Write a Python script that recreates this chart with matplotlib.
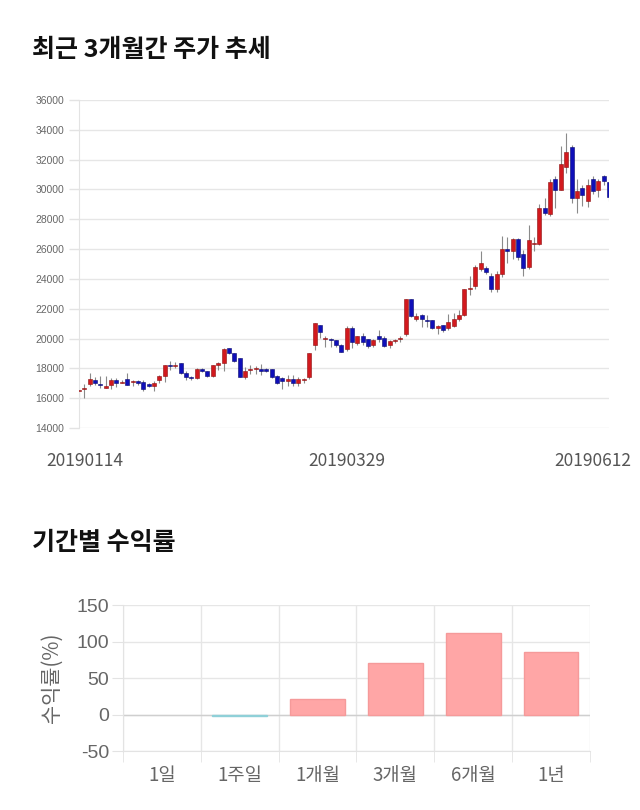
import numpy as np
import matplotlib
matplotlib.use("Agg")
import matplotlib.pyplot as plt
import matplotlib.transforms as mtransforms

plt.rcParams['font.family'] = ['Noto Sans CJK KR', 'DejaVu Sans']
plt.rcParams['axes.unicode_minus'] = False

# 일봉 데이터 (시가, 고가, 저가, 종가) - 그림에서 읽은 값
opens = [16450, 16600, 16950, 17250, 16950, 16700, 16900, 17200, 17050, 17300,
         17100, 17150, 17100, 16950, 16850, 17200, 17500, 18250, 18150, 18350,
         17700, 17450, 17350, 17950, 17800, 17500, 18250, 18350, 19350, 19000,
         18700, 17400, 17900, 17950, 17950, 17950, 17950, 17500, 17350, 17150,
         17300, 17000, 17200, 17400, 19550, 20900, 20000, 19950, 19900, 19600,
         19300, 20700, 19700, 20200, 19950, 19550, 20150, 20050, 19550, 19850,
         20000, 20300, 22650, 21300, 21550, 21250, 21250, 20700, 20900, 20700,
         20850, 21300, 21550, 23350, 23500, 24650, 24700, 24200, 23300, 24350,
         26000, 25850, 26700, 25650, 24800, 26350, 26350, 28750, 28350, 30700,
         29950, 31500, 32850, 29400, 30100, 29250, 30700, 29950, 30900, 30500]
highs = [16650, 16950, 17700, 17400, 17500, 17500, 17350, 17350, 17200, 17700,
         17250, 17200, 17250, 17000, 17150, 17550, 18250, 18500, 18450, 18350,
         17850, 17500, 18000, 18000, 17850, 18250, 18450, 19350, 19400, 19050,
         18700, 18100, 18200, 18150, 18300, 18000, 17950, 17550, 17400, 17550,
         17550, 17400, 17350, 19000, 21050, 20900, 20200, 20050, 19900, 19650,
         20850, 20850, 20200, 20400, 20000, 19950, 20600, 20150, 19900, 20000,
         20200, 22650, 22650, 21700, 21650, 21550, 21250, 20900, 20900, 21650,
         21700, 21900, 23300, 24200, 24950, 25900, 24900, 24400, 24500, 26900,
         26800, 26750, 26750, 25950, 27600, 26800, 29000, 29400, 30700, 30900,
         32950, 33800, 33000, 30700, 30300, 30700, 30900, 30700, 30950, 30700]
lows = [15950, 16000, 16850, 16900, 16700, 16650, 16600, 16750, 17000, 16900,
        16800, 16900, 16450, 16750, 16500, 17050, 17100, 17900, 18050, 17600,
        17250, 17200, 17300, 17750, 17450, 17400, 17900, 17850, 18950, 18400,
        17400, 17300, 17600, 17650, 17550, 17750, 17350, 16950, 16600, 16800,
        16800, 16850, 17050, 17300, 19200, 20050, 19450, 19450, 19450, 19100,
        19150, 19400, 19550, 19600, 19400, 19450, 19750, 19450, 19400, 19700,
        19800, 20200, 21450, 21200, 20800, 20800, 20650, 20300, 20450, 20550,
        20750, 21200, 21500, 22900, 23300, 24500, 24300, 23100, 23100, 24150,
        25100, 25350, 25300, 24200, 24650, 25900, 26300, 28300, 28200, 28750,
        29950, 31100, 29100, 28400, 28900, 28800, 29700, 29500, 30300, 29200]
closes = [16550, 16650, 17300, 17000, 16900, 16850, 17250, 17050, 17100, 16900,
          17150, 17000, 16600, 16800, 17050, 17500, 18250, 18150, 18250, 17700,
          17400, 17350, 17950, 17800, 17500, 18200, 18350, 19300, 19000, 18500,
          17400, 17850, 17950, 18000, 17850, 17850, 17450, 17050, 17150, 17300,
          17000, 17300, 17250, 19000, 21050, 20450, 20050, 19900, 19550, 19100,
          20700, 19750, 20200, 19750, 19500, 19900, 20000, 19500, 19850, 19900,
          20050, 22650, 21500, 21500, 21300, 21200, 20700, 20850, 20550, 21100,
          21300, 21550, 23300, 23400, 24800, 25100, 24450, 23300, 24350, 26000,
          25850, 26700, 25450, 24700, 26600, 26400, 28750, 28400, 30500, 29950,
          31700, 32500, 29400, 29900, 29600, 30300, 29900, 30600, 30550, 29500]
date_labels = ['20190114', '20190329', '20190612']

periods = ['1일', '1주일', '1개월', '3개월', '6개월', '1년']
returns = [0.0, -2.3, 20.7, 70.5, 111.6, 85.5]

fig = plt.figure(figsize=(6.4, 8.1), dpi=100)

# ---- 최근 3개월간 주가 추세 ----
fig.text(0.05, 0.938, '최근 3개월간 주가 추세', fontsize=18, fontweight='bold',
         va='center', ha='left', color='#111111')

ax = fig.add_axes([0.1234, 0.4716, 0.8282, 0.4049])
o = np.array(opens)
c = np.array(closes)
h = np.array(highs)
l = np.array(lows)
x = np.arange(len(o))
up = c >= o
col = np.where(up, '#d2191e', '#0f0fb9')
ax.vlines(x, l, h, color='#8a8a8a', linewidth=0.8, zorder=2)
body_lo = np.minimum(o, c)
body_h = np.maximum(np.abs(c - o), 60)
ax.bar(x, body_h, bottom=body_lo, width=0.75, color=col,
       edgecolor=np.where(up, '#8c1010', '#08086e'), linewidth=0.4, zorder=3)

ax.set_xlim(0, len(o) - 1)
ax.set_ylim(14000, 36000)
ax.set_yticks(np.arange(14000, 36001, 2000))
ax.tick_params(axis='y', labelsize=7.5, labelcolor='#666666', color='#e3e3e3',
               length=7, width=1)
for lab in ax.get_yticklabels():
    lab.set_family(['Liberation Sans', 'DejaVu Sans'])
ax.grid(axis='y', color='#e6e6e6', linewidth=1)
ax.set_axisbelow(True)
for s in ['top', 'right', 'bottom']:
    ax.spines[s].set_visible(False)
ax.spines['left'].set_color('#e3e3e3')
ax.set_xticks([0, 50, len(o) - 1])
ax.set_xticklabels(date_labels)
ax.tick_params(axis='x', length=0, labelsize=12.5, labelcolor='#555555', pad=17)
xl = ax.get_xticklabels()
xl[0].set_transform(xl[0].get_transform() +
                    mtransforms.ScaledTranslation(6 / 100, 0, fig.dpi_scale_trans))
xl[2].set_ha('right')
xl[2].set_transform(xl[2].get_transform() +
                    mtransforms.ScaledTranslation(22 / 100, 0, fig.dpi_scale_trans))

# ---- 기간별 수익률 ----
fig.text(0.05, 0.330, '기간별 수익률', fontsize=18, fontweight='bold',
         va='center', ha='left', color='#111111')

bx = fig.add_axes([0.192, 0.0728, 0.730, 0.180])
pos = np.arange(len(periods))
bcol = ['#ffa6a6' if v >= 0 else '#9fdde3' for v in returns]
ecol = ['none' if v == 0 else ('#f59a9a' if v > 0 else '#8fd0d8') for v in returns]
bx.bar(pos, returns, width=0.7, color=bcol, edgecolor=ecol, linewidth=1, zorder=3)
bx.set_xlim(-0.5, len(periods) - 0.5)
bx.set_ylim(-50, 150)
bx.set_yticks([-50, 0, 50, 100, 150])
bx.set_xticks(pos)
bx.set_xticklabels(periods)
bx.set_xticks(np.arange(-0.5, len(periods), 1), minor=True)
bx.grid(axis='y', color='#e6e6e6', linewidth=1)
bx.grid(axis='x', which='minor', color='#e6e6e6', linewidth=1)
bx.set_axisbelow(True)
bx.axhline(0, color='#cfcfcf', linewidth=1, zorder=2)
bx.tick_params(axis='y', labelsize=14, labelcolor='#666666', color='#e3e3e3',
               length=8, pad=2)
bx.tick_params(axis='x', which='major', length=0, labelsize=13.5,
               labelcolor='#666666', pad=10)
bx.tick_params(axis='x', which='minor', length=8, color='#e3e3e3')
for lab in bx.get_yticklabels():
    lab.set_family(['Liberation Sans', 'DejaVu Sans'])
for s in ['top', 'right']:
    bx.spines[s].set_visible(False)
bx.spines['left'].set_color('#e3e3e3')
bx.spines['bottom'].set_color('#e3e3e3')
bx.set_ylabel('수익률(%)', fontsize=15, color='#666666', labelpad=10)

fig.savefig('out.png', dpi=100, facecolor='white')
